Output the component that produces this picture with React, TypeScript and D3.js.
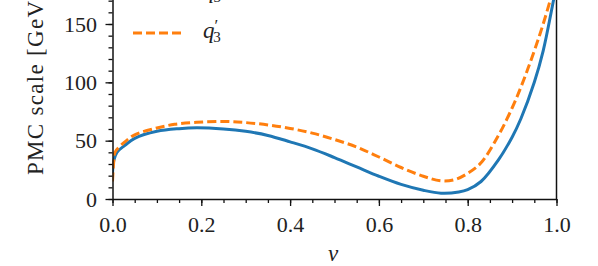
import React, { useEffect, useRef } from 'react';
import * as d3 from 'd3';

// q3 (solid blue)
const vBlue = [0, 0.003, 0.01, 0.028, 0.05, 0.1, 0.15, 0.19, 0.25, 0.3, 0.35, 0.4, 0.45, 0.5, 0.55, 0.6, 0.65, 0.7, 0.74, 0.78, 0.8, 0.83, 0.87, 0.9, 0.92, 0.95, 0.97, 0.99, 1.0];
const q3 = [22, 33, 40, 46, 52, 58, 60.3, 61, 60, 58, 54.5, 49, 43, 35.5, 27.5, 19.5, 12.5, 7.5, 5, 6, 8, 15, 34, 53, 69, 100, 127, 164, 184];

// q3' (dashed orange)
const vOrange = [0, 0.003, 0.0056, 0.028, 0.05, 0.096, 0.14, 0.19, 0.25, 0.3, 0.35, 0.4, 0.45, 0.5, 0.55, 0.6, 0.65, 0.7, 0.74, 0.77, 0.8, 0.83, 0.87, 0.9, 0.92, 0.95, 0.97, 0.99, 1.0];
const q3Prime = [15, 33, 40, 49, 55, 60.5, 64, 65.7, 66.5, 65.5, 63.5, 60.5, 56.5, 51, 44.5, 36, 27, 19.5, 15.5, 16.5, 22, 31, 55, 78, 96, 127, 150, 176, 190];

const xMajorTicks = [0, 0.2, 0.4, 0.6, 0.8, 1.0];
const xMinorTicks = d3.range(0, 1.0001, 0.05);
const yMajorTicks = [0, 50, 100, 150];
const yMinorTicks = d3.range(0, 181, 10);

const W = 598;
const H = 266;
const FONT = '"Liberation Serif", "DejaVu Serif", serif';
const BLUE = '#1f77b4';
const ORANGE = '#ff7f0e';

const App: React.FC = () => {
  const svgRef = useRef<SVGSVGElement>(null);

  useEffect(() => {
    if (!svgRef.current) return;
    const svg = d3.select(svgRef.current);
    svg.selectAll('*').remove();

    const x0 = 112.5, x1 = 556.5, yBase = 199;
    const xScale = d3.scaleLinear().domain([0, 1]).range([x0, x1]);
    const yScale = d3.scaleLinear().domain([0, 190]).range([yBase, yBase - 190 * (7 / 6)]);

    svg.append('defs')
      .append('clipPath')
      .attr('id', 'plot-clip')
      .append('rect')
      .attr('x', x0)
      .attr('y', yScale(190))
      .attr('width', x1 - x0)
      .attr('height', yBase - yScale(190));

    const line = d3.line<[number, number]>()
      .x(d => xScale(d[0]))
      .y(d => yScale(d[1]))
      .curve(d3.curveCatmullRom.alpha(0.5));

    const plot = svg.append('g').attr('clip-path', 'url(#plot-clip)');

    plot.append('path')
      .datum(vBlue.map((v, i) => [v, q3[i]] as [number, number]))
      .attr('d', line)
      .attr('fill', 'none')
      .attr('stroke', BLUE)
      .attr('stroke-width', 3);

    plot.append('path')
      .datum(vOrange.map((v, i) => [v, q3Prime[i]] as [number, number]))
      .attr('d', line)
      .attr('fill', 'none')
      .attr('stroke', ORANGE)
      .attr('stroke-width', 3)
      .attr('stroke-dasharray', '9,4');

    // axes: minor ticks first, then major with labels
    const xMinor = svg.append('g')
      .attr('transform', `translate(0,${yBase})`)
      .call(d3.axisBottom(xScale).tickValues(xMinorTicks).tickSize(4).tickFormat(() => '').tickSizeOuter(0));
    xMinor.select('.domain').remove();

    const xMajor = svg.append('g')
      .attr('transform', `translate(0,${yBase})`)
      .call(d3.axisBottom(xScale).tickValues(xMajorTicks).tickSize(7).tickPadding(10.5)
        .tickFormat(d => d3.format('.1f')(d as number)).tickSizeOuter(0));

    const yMinor = svg.append('g')
      .attr('transform', `translate(${x0},0)`)
      .call(d3.axisLeft(yScale).tickValues(yMinorTicks).tickSize(4).tickFormat(() => '').tickSizeOuter(0));
    yMinor.select('.domain').remove();

    const yMajor = svg.append('g')
      .attr('transform', `translate(${x0},0)`)
      .call(d3.axisLeft(yScale).tickValues(yMajorTicks).tickSize(7).tickPadding(8.5)
        .tickFormat(d => String(d)).tickSizeOuter(0));

    [xMajor, yMajor].forEach(g => {
      g.selectAll('text')
        .style('font-family', FONT)
        .style('font-size', '22px')
        .attr('fill', '#222');
    });
    svg.selectAll('.tick line').attr('stroke', '#111').attr('stroke-width', 1.3);
    svg.selectAll('.domain').attr('stroke', '#111').attr('stroke-width', 1.5);

    // right spine
    svg.append('line')
      .attr('x1', x1).attr('x2', x1)
      .attr('y1', yScale(190)).attr('y2', yBase)
      .attr('stroke', '#111')
      .attr('stroke-width', 1.5);

    // axis titles
    svg.append('text')
      .attr('transform', `translate(43,175) rotate(-90)`)
      .attr('text-anchor', 'start')
      .style('font-family', FONT)
      .style('font-size', '23px')
      .style('letter-spacing', '1.3px')
      .attr('fill', '#222')
      .text('PMC scale [GeV]');

    svg.append('text')
      .attr('x', 333)
      .attr('y', 261)
      .attr('text-anchor', 'middle')
      .style('font-family', FONT)
      .style('font-size', '23px')
      .style('font-style', 'italic')
      .attr('fill', '#222')
      .text('v');

    // legend
    const legend = svg.append('g');
    const rows = [
      { y: -7, color: BLUE, dash: null as string | null, prime: false },
      { y: 33, color: ORANGE, dash: '9,4', prime: true }
    ];
    rows.forEach(r => {
      legend.append('line')
        .attr('x1', 133).attr('x2', 183)
        .attr('y1', r.y).attr('y2', r.y)
        .attr('stroke', r.color)
        .attr('stroke-width', 3)
        .attr('stroke-dasharray', r.dash);

      const t = legend.append('text')
        .attr('x', 203)
        .attr('y', r.y + 5)
        .style('font-family', FONT)
        .style('font-size', '23px')
        .attr('fill', '#222');
      t.append('tspan').style('font-style', 'italic').text('q');
      if (r.prime) {
        t.append('tspan').attr('dx', 0).attr('dy', -7).style('font-size', '17px').text('′');
        t.append('tspan').attr('dx', -5).attr('dy', 11).style('font-size', '15px').text('3');
      } else {
        t.append('tspan').attr('dx', -1).attr('dy', 4).style('font-size', '15px').text('3');
      }
    });
  }, []);

  return (
    <div style={{ position: 'absolute', left: 0, top: 0 }}>
      <svg ref={svgRef} width={W} height={H} style={{ display: 'block', background: '#fff' }} />
    </div>
  );
};

export default App;
